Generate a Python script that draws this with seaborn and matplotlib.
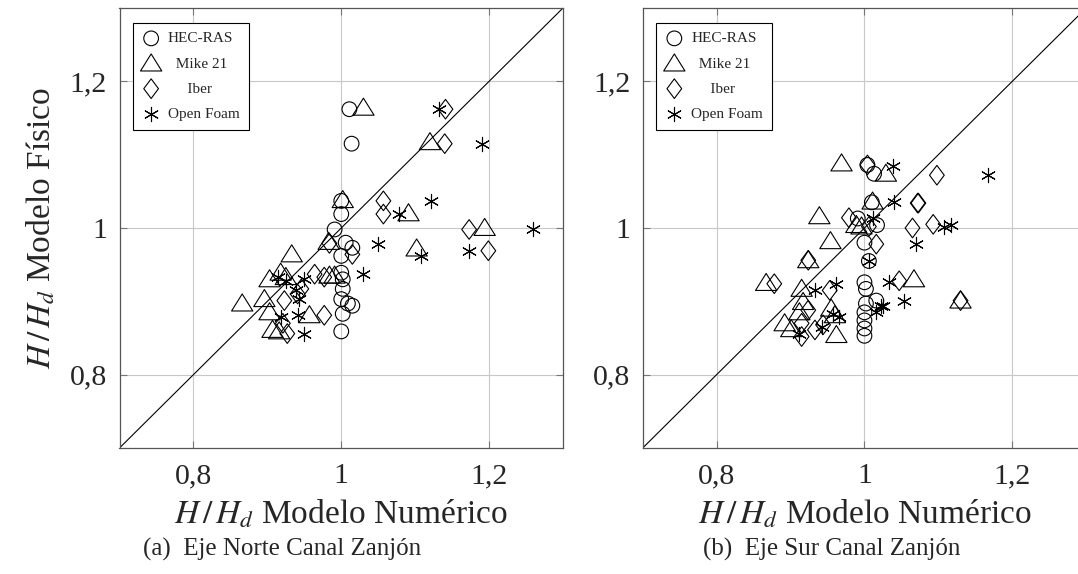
import numpy as np
import pandas as pd
import matplotlib
matplotlib.use("Agg")
import matplotlib.pyplot as plt
from matplotlib.path import Path
import seaborn as sns

# ---------------- data ----------------
# Panel (a): Eje Norte Canal Zanjón
a_hec_x = [1.011, 1.014, 1.000, 1.000, 0.991, 1.006, 1.015, 1.000, 1.000, 1.002, 1.002, 1.000, 1.009, 1.015, 1.002, 1.000]
a_hec_y = [1.162, 1.115, 1.037, 1.019, 0.998, 0.980, 0.973, 0.962, 0.939, 0.930, 0.917, 0.903, 0.897, 0.894, 0.883, 0.859]
a_mike_x = [1.030, 1.120, 1.002, 1.091, 1.194, 1.102, 0.933, 0.983, 0.866, 0.903, 0.918, 0.925, 0.896, 0.903, 0.907, 0.916, 0.957, 0.984, 0.991]
a_mike_y = [1.164, 1.117, 1.038, 1.020, 1.000, 0.972, 0.964, 0.981, 0.897, 0.930, 0.939, 0.933, 0.903, 0.885, 0.861, 0.859, 0.881, 0.935, 0.935]
a_iber_x = [1.141, 1.140, 1.057, 1.057, 1.173, 1.199, 1.015, 0.984, 0.923, 0.946, 0.964, 0.977, 0.977, 0.927, 0.921, 0.941]
a_iber_y = [1.162, 1.115, 1.037, 1.019, 0.998, 0.969, 0.964, 0.979, 0.901, 0.917, 0.937, 0.933, 0.881, 0.856, 0.870, 0.910]
a_foam_x = [1.132, 1.190, 1.078, 1.122, 1.259, 1.173, 1.050, 1.108, 0.914, 0.925, 0.950, 1.029, 0.939, 0.943, 0.941, 0.950, 0.918]
a_foam_y = [1.162, 1.115, 1.019, 1.037, 0.998, 0.969, 0.978, 0.962, 0.933, 0.928, 0.930, 0.937, 0.915, 0.903, 0.881, 0.856, 0.879]

# Panel (b): Eje Sur Canal Zanjón
b_hec_x = [1.004, 1.013, 1.010, 0.991, 1.017, 1.000, 1.006, 1.000, 1.002, 1.002, 1.016, 1.000, 1.000, 1.000, 1.000]
b_hec_y = [1.086, 1.074, 1.035, 1.013, 1.004, 0.980, 0.955, 0.926, 0.917, 0.897, 0.901, 0.885, 0.874, 0.863, 0.853]
b_mike_x = [0.969, 1.029, 1.011, 0.939, 0.989, 0.996, 0.954, 0.924, 0.867, 0.915, 1.067, 0.917, 0.912, 0.892, 0.901, 0.962, 0.955, 0.960, 1.130]
b_mike_y = [1.088, 1.074, 1.036, 1.016, 1.004, 1.002, 0.982, 0.956, 0.925, 0.917, 0.930, 0.899, 0.885, 0.870, 0.862, 0.854, 0.890, 0.881, 0.901]
b_iber_x = [1.004, 1.072, 0.979, 1.006, 1.065, 1.016, 0.924, 0.878, 0.953, 1.047, 1.098, 1.073, 1.093, 0.924, 0.915, 0.915, 0.933, 0.944, 1.130]
b_iber_y = [1.086, 1.034, 1.014, 1.002, 1.000, 0.978, 0.956, 0.924, 0.915, 0.928, 1.072, 1.034, 1.005, 0.888, 0.870, 0.852, 0.861, 0.868, 0.901]
b_foam_x = [1.039, 1.040, 1.011, 1.070, 1.006, 0.933, 0.962, 1.033, 1.054, 1.022, 1.016, 1.167, 1.108, 1.117, 0.912, 0.943, 0.966, 0.957, 1.025]
b_foam_y = [1.085, 1.035, 1.013, 0.978, 0.955, 0.916, 0.924, 0.927, 0.900, 0.893, 0.885, 1.072, 1.001, 1.004, 0.856, 0.865, 0.879, 0.883, 0.894]

series_names = ["HEC-RAS", "Mike 21", "Iber", "Open Foam"]
legend_labels = ["HEC-RAS", "  Mike 21", "     Iber", "Open Foam"]
tick_values = [0.8, 1.0, 1.2]
tick_labels = ["0,8", "1", "1,2"]
captions = ["(a)  Eje Norte Canal Zanjón", "(b)  Eje Sur Canal Zanjón"]

# ---------------- styling ----------------
sns.set_theme(style="white")
plt.rcParams["font.family"] = ["Liberation Serif", "DejaVu Serif"]
plt.rcParams["mathtext.fontset"] = "stix"


def closed_path(verts):
    v = list(verts) + [verts[0]]
    codes = [Path.MOVETO] + [Path.LINETO] * (len(verts) - 1) + [Path.CLOSEPOLY]
    return Path(v, codes)


tri = closed_path([(-1, -0.7), (1, -0.7), (0, 0.9)])
dia = closed_path([(0, 1), (0.75, 0), (0, -1), (-0.75, 0)])
marker_specs = {
    "HEC-RAS": dict(marker="o", s=112),
    "Mike 21": dict(marker=tri, s=235),
    "Iber": dict(marker=dia, s=200),
    "Open Foam": dict(marker=(6, 2, 0), s=105),
}

W, H = 1078, 574
fig = plt.figure(figsize=(W / 100, H / 100), dpi=100)
ax_a = fig.add_axes([119.5 / W, (H - 448) / H, 443.5 / W, 440 / H])
ax_b = fig.add_axes([642.7 / W, (H - 448) / H, 443.5 / W, 440 / H])

panels = [
    (ax_a, [(a_hec_x, a_hec_y), (a_mike_x, a_mike_y), (a_iber_x, a_iber_y), (a_foam_x, a_foam_y)]),
    (ax_b, [(b_hec_x, b_hec_y), (b_mike_x, b_mike_y), (b_iber_x, b_iber_y), (b_foam_x, b_foam_y)]),
]

for i, (ax, data) in enumerate(panels):
    ax.set_xlim(0.7, 1.3)
    ax.set_ylim(0.7, 1.3)
    ax.plot([0.7, 1.3], [0.7, 1.3], color="black", lw=0.8, zorder=2)
    handles = []
    for name, (xs, ys) in zip(series_names, data):
        df = pd.DataFrame({"x": xs, "y": ys})
        spec = marker_specs[name]
        if name == "Open Foam":
            sns.scatterplot(data=df, x="x", y="y", ax=ax, marker=spec["marker"], s=spec["s"],
                            color="black", linewidth=0.8, zorder=3, legend=False)
        else:
            sns.scatterplot(data=df, x="x", y="y", ax=ax, marker=spec["marker"], s=spec["s"],
                            facecolor="none", edgecolor="black", linewidth=0.8, zorder=3, legend=False)
        handles.append(ax.collections[-1])
    ax.set_xticks(tick_values, tick_labels)
    ax.set_yticks(tick_values, tick_labels)
    ax.grid(True, color="#c8c8c8", lw=0.8)
    ax.tick_params(axis="both", direction="in", length=5, color="#777777", width=0.8,
                   labelsize=21.5, top=True, right=True, bottom=True, left=True)
    ax.tick_params(axis="x", pad=11)
    ax.tick_params(axis="y", pad=9)
    for sp in ax.spines.values():
        sp.set_color("#555555")
        sp.set_linewidth(0.9)
    ax.set_xlabel(r"$H\,/\,H_d$ Modelo Numérico", fontsize=24, labelpad=6)
    if i == 0:
        ax.set_ylabel(r"$H\,/\,H_d$ Modelo Físico", fontsize=24, labelpad=9)
    else:
        ax.set_ylabel("")
    leg = ax.legend(handles, legend_labels, loc="upper left", bbox_to_anchor=(0.03, 0.967),
                    borderaxespad=0, fontsize=11, frameon=True, fancybox=False,
                    edgecolor="black", framealpha=1, labelspacing=0.75,
                    handletextpad=0.5, borderpad=0.6, handlelength=1.2)
    leg.get_frame().set_linewidth(0.8)

fig.text(143 / W, 1 - 549 / H, captions[0], fontsize=18, ha="left", va="center")
fig.text(703 / W, 1 - 549 / H, captions[1], fontsize=18, ha="left", va="center")

fig.savefig("out.png", dpi=100)
